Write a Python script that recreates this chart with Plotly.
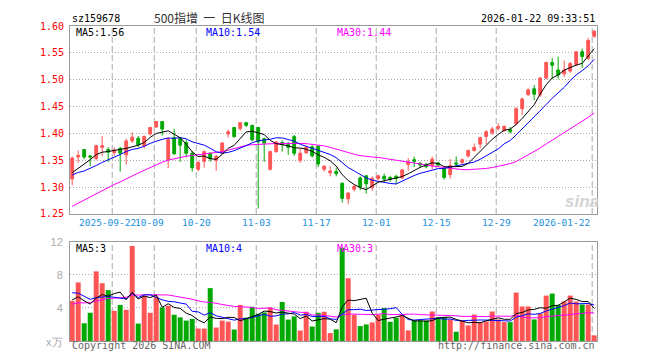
import plotly.graph_objects as go
import pandas as pd

# ---------------- data ----------------
dates = [
    "2025-09-11", "2025-09-12", "2025-09-15", "2025-09-16", "2025-09-17", "2025-09-18", "2025-09-19",
    "2025-09-22", "2025-09-23", "2025-09-24", "2025-09-25", "2025-09-26", "2025-09-29", "2025-09-30",
    "2025-10-09", "2025-10-10", "2025-10-13", "2025-10-14", "2025-10-15", "2025-10-16", "2025-10-17",
    "2025-10-20", "2025-10-21", "2025-10-22", "2025-10-23", "2025-10-24", "2025-10-27", "2025-10-28",
    "2025-10-29", "2025-10-30", "2025-10-31", "2025-11-03", "2025-11-04", "2025-11-05", "2025-11-06",
    "2025-11-07", "2025-11-10", "2025-11-11", "2025-11-12", "2025-11-13", "2025-11-14", "2025-11-17",
    "2025-11-18", "2025-11-19", "2025-11-20", "2025-11-21", "2025-11-24", "2025-11-25", "2025-11-26",
    "2025-11-27", "2025-11-28", "2025-12-01", "2025-12-02", "2025-12-03", "2025-12-04", "2025-12-05",
    "2025-12-08", "2025-12-09", "2025-12-10", "2025-12-11", "2025-12-12", "2025-12-15", "2025-12-16",
    "2025-12-17", "2025-12-18", "2025-12-19", "2025-12-22", "2025-12-23", "2025-12-24", "2025-12-25",
    "2025-12-26", "2025-12-29", "2025-12-30", "2025-12-31", "2026-01-05", "2026-01-06", "2026-01-07",
    "2026-01-08", "2026-01-09", "2026-01-12", "2026-01-13", "2026-01-14", "2026-01-15", "2026-01-16",
    "2026-01-19", "2026-01-20", "2026-01-21", "2026-01-22",
]
open_p = [
    1.315, 1.356, 1.370, 1.358, 1.353, 1.374, 1.370, 1.364, 1.372, 1.360, 1.386, 1.391, 1.377, 1.399,
    1.412, 1.422, 1.351, 1.392, 1.391, 1.383, 1.363, 1.333, 1.348, 1.363, 1.350, 1.363, 1.399, 1.411,
    1.409, 1.420, 1.415, 1.411, 1.390, 1.333, 1.366, 1.383, 1.379, 1.394, 1.350, 1.364, 1.375, 1.376,
    1.333, 1.3265, 1.329, 1.307, 1.278, 1.296, 1.317, 1.321, 1.299, 1.316, 1.320, 1.318, 1.320, 1.317,
    1.342, 1.351, 1.344, 1.342, 1.340, 1.345, 1.334, 1.323, 1.345, 1.346, 1.358, 1.368, 1.380, 1.394,
    1.401, 1.409, 1.405, 1.407, 1.418, 1.446, 1.472, 1.483, 1.472, 1.503, 1.532, 1.518, 1.511, 1.516,
    1.528, 1.552, 1.540, 1.581,
]
high_p = [
    1.357, 1.368, 1.371, 1.360, 1.379, 1.395, 1.374, 1.374, 1.375, 1.390, 1.402, 1.395, 1.396, 1.412,
    1.423, 1.422, 1.393, 1.408, 1.393, 1.388, 1.367, 1.349, 1.368, 1.364, 1.360, 1.384, 1.407, 1.412,
    1.421, 1.421, 1.416, 1.412, 1.392, 1.368, 1.386, 1.387, 1.384, 1.397, 1.372, 1.377, 1.378, 1.378,
    1.340, 1.339, 1.336, 1.309, 1.290, 1.305, 1.320, 1.322, 1.320, 1.323, 1.325, 1.321, 1.323, 1.334,
    1.354, 1.357, 1.347, 1.345, 1.357, 1.347, 1.336, 1.352, 1.357, 1.353, 1.370, 1.381, 1.394, 1.406,
    1.412, 1.419, 1.415, 1.412, 1.449, 1.467, 1.484, 1.490, 1.505, 1.534, 1.540, 1.543, 1.536, 1.533,
    1.553, 1.558, 1.578, 1.593,
]
low_p = [
    1.303, 1.345, 1.352, 1.339, 1.350, 1.357, 1.347, 1.358, 1.329, 1.342, 1.382, 1.374, 1.372, 1.396,
    1.410, 1.396, 1.335, 1.360, 1.347, 1.355, 1.329, 1.329, 1.336, 1.347, 1.330, 1.361, 1.392, 1.392,
    1.405, 1.412, 1.385, 1.260, 1.347, 1.331, 1.364, 1.366, 1.360, 1.358, 1.345, 1.362, 1.355, 1.337,
    1.329, 1.320, 1.320, 1.271, 1.268, 1.292, 1.294, 1.288, 1.293, 1.313, 1.309, 1.310, 1.305, 1.316,
    1.330, 1.337, 1.336, 1.335, 1.333, 1.338, 1.314, 1.316, 1.339, 1.343, 1.355, 1.366, 1.372, 1.380,
    1.397, 1.405, 1.403, 1.400, 1.415, 1.434, 1.470, 1.462, 1.468, 1.501, 1.501, 1.501, 1.505, 1.513,
    1.525, 1.522, 1.537, 1.578,
]
close_p = [
    1.354, 1.359, 1.356, 1.356, 1.377, 1.377, 1.365, 1.369, 1.363, 1.386, 1.393, 1.379, 1.394, 1.411,
    1.422, 1.408, 1.389, 1.362, 1.378, 1.363, 1.336, 1.346, 1.366, 1.353, 1.357, 1.382, 1.403, 1.394,
    1.420, 1.415, 1.388, 1.384, 1.382, 1.366, 1.384, 1.379, 1.374, 1.363, 1.363, 1.374, 1.358, 1.343,
    1.339, 1.330, 1.325, 1.279, 1.289, 1.301, 1.301, 1.306, 1.316, 1.321, 1.315, 1.314, 1.316, 1.332,
    1.347, 1.348, 1.341, 1.338, 1.352, 1.341, 1.318, 1.340, 1.343, 1.351, 1.368, 1.374, 1.392, 1.403,
    1.408, 1.413, 1.413, 1.403, 1.446, 1.464, 1.481, 1.473, 1.503, 1.532, 1.527, 1.509, 1.518, 1.530,
    1.552, 1.543, 1.573, 1.590,
]
volume = [  # 万
    4.85, 7.10, 2.15, 3.42, 8.43, 7.00, 6.16, 3.66, 4.37, 3.78, 11.50, 2.11, 5.45, 3.42,
    5.37, 4.06, 4.26, 3.18, 2.86, 2.47, 2.67, 1.51, 1.51, 6.40, 1.63, 2.47, 2.35, 1.39,
    4.37, 2.83, 4.14, 3.30, 3.46, 4.06, 1.99, 4.73, 2.59, 2.98, 1.27, 3.54, 1.75, 3.42,
    3.54, 0.96, 1.41, 11.30, 7.60, 3.17, 1.81, 2.00, 2.25, 3.17, 3.98, 2.33, 2.81, 3.17,
    1.29, 2.49, 2.49, 2.49, 3.57, 2.89, 2.89, 2.61, 1.12, 2.49, 1.89, 3.21, 2.29, 2.37,
    3.57, 2.61, 2.29, 2.29, 5.86, 4.18, 4.18, 2.61, 3.33, 5.50, 5.74, 4.38, 4.78, 5.50,
    4.78, 4.42, 4.42, 0.68,
]
# sessions before the visible window (estimated, used only for the moving averages)
prior_close = [
    1.18, 1.19, 1.17, 1.20, 1.19, 1.21, 1.20, 1.22, 1.21, 1.23, 1.22, 1.24, 1.25, 1.27, 1.27,
    1.27, 1.29, 1.29, 1.31, 1.29, 1.31, 1.33, 1.31, 1.32, 1.32, 1.32, 1.31, 1.32, 1.33,
]
prior_volume = [
    2.2, 2.5, 2.0, 2.6, 2.3, 2.1, 2.6, 2.4, 2.3, 2.4,
    3.5, 4.0, 3.8, 4.2, 4.0, 6.0, 7.0, 6.5, 7.0, 6.0,
    7.5, 6.0, 7.2, 6.3, 6.55, 5.2, 4.6, 5.4, 4.8,
]
price_ticks = [1.25, 1.30, 1.35, 1.40, 1.45, 1.50, 1.55, 1.60]
price_tick_labels = ["1.25", "1.30", "1.35", "1.40", "1.45", "1.50", "1.55", "1.60"]
vol_ticks = [4, 8, 12]
vol_tick_labels = ["4", "8", "12"]
tick_dates = ["2025-09-22", "2025-10-09", "2025-10-20", "2025-11-03", "2025-11-17",
              "2025-12-01", "2025-12-15", "2025-12-29", "2026-01-22"]
tick_labels = ["2025-09-22", "10-09", "10-20", "11-03", "11-17", "12-01", "12-15", "12-29", "2026-01-22"]

# ---------------- styling ----------------
RED = "#ff5555"
GREEN = "#00a800"
BORDER = "#999999"
GRID = "#aaaaaa"
MONO = "DejaVu Sans Mono"
OFF = 8                      # the page body adds an 8px margin; compensate for it
W, H = 660, 360              # target picture size
L, R, T, B = 70, 597, 20, 341  # plot area in picture pixels


def px(x):
    return (x - L) / (R - L)


def py(y):
    return (B - y) / (B - T)


def ma(prior, vals, k):
    s = pd.Series(list(prior) + list(vals)).rolling(k).mean()
    return s.iloc[len(prior):].tolist()


n = len(dates)
xs = list(range(n))
ma5 = ma(prior_close, close_p, 5)
ma10 = ma(prior_close, close_p, 10)
ma30 = ma(prior_close, close_p, 30)
vma5 = ma(prior_volume, volume, 5)
vma10 = ma(prior_volume, volume, 10)
vma30 = ma(prior_volume, volume, 30)
vol_colors = [RED if c > o else GREEN for o, c in zip(open_p, close_p)]

fig = go.Figure()
fig.add_trace(go.Candlestick(
    x=xs, open=open_p, high=high_p, low=low_p, close=close_p,
    increasing=dict(line=dict(color=RED, width=1), fillcolor=RED),
    decreasing=dict(line=dict(color=GREEN, width=1), fillcolor=GREEN),
    whiskerwidth=0, xaxis="x", yaxis="y", text=dates, hoverinfo="text+y",
))
for vals, col in ((ma30, "#ff00ff"), (ma10, "#0000ff"), (ma5, "#000000")):
    fig.add_trace(go.Scatter(x=xs, y=vals, mode="lines", line=dict(color=col, width=1),
                             xaxis="x", yaxis="y", hoverinfo="skip"))

fig.add_trace(go.Bar(x=xs, y=volume, marker=dict(color=vol_colors, line=dict(width=0)),
                     width=0.83, xaxis="x2", yaxis="y2", hoverinfo="y"))
for vals, col in ((vma30, "#ff00ff"), (vma10, "#0000ff"), (vma5, "#000000")):
    fig.add_trace(go.Scatter(x=xs, y=vals, mode="lines", line=dict(color=col, width=1),
                             xaxis="x2", yaxis="y2", hoverinfo="skip"))

# vertical dashed grid lines (slightly left of the candle centre, as in the source)
shapes = []
tick_idx = [dates.index(d) for d in tick_dates]
for i in tick_idx:
    for xr, yr in (("x", "y domain"), ("x2", "y2 domain")):
        shapes.append(dict(type="line", xref=xr, yref=yr, x0=i - 0.33, x1=i - 0.33, y0=0, y1=1,
                           line=dict(color=GRID, width=1, dash="6px,3px"), layer="below"))

ann = []


def text(x, y, s, color="#000000", size=10, anchor="left", family=MONO):
    ann.append(dict(x=px(x), y=py(y), xref="paper", yref="paper", text=s, showarrow=False,
                    xanchor=anchor, yanchor="middle", font=dict(family=family, size=size, color=color)))


text(70, 12, "sz159678", "#000000")
text(209, 11.5, "500指增\u00a0\u00a0一\u00a0\u00a0日K线图", "#333333", 12, "center", "Noto Sans CJK SC")
text(597, 12, "2026-01-22 09:33:51", "#000000", anchor="right")
text(74, 26.5, f"MA5:{ma5[-1]:.2f}", "#000000")
text(204, 26.5, f"MA10:{ma10[-1]:.2f}", "#0000ff")
text(335, 26.5, f"MA30:{ma30[-1]:.2f}", "#ff00ff")
text(74, 247, f"MA5:{int(vma5[-1])}", "#000000")
text(204, 247, f"MA10:{int(vma10[-1])}", "#0000ff")
text(335, 247, f"MA30:{int(vma30[-1])}", "#ff00ff")
# date labels: positions as they sit in the source
date_label_x = [107, 149.5, 196, 256, 316, 376, 436, 496, 592]
date_label_anchor = ["center"] * 8 + ["right"]
for lab, xl, an in zip(tick_labels, date_label_x, date_label_anchor):
    text(xl, 220, lab, "#2090e0", 9.5, an)
text(65, 342, "x万", "#aaaaaa", 11, "right", "Liberation Sans")
text(70, 346, "Copyright 2026 SINA.COM", "#666666")
text(597, 346, "http://finance.sina.com.cn", "#666666", anchor="right")
text(582, 199, "<b><i>sina</i></b>", "#d4d4d4", 17, "center", "Liberation Sans")

axis_common = dict(showline=True, mirror=True, linecolor=BORDER, linewidth=1, zeroline=False,
                   fixedrange=True)
fig.update_layout(
    width=W - OFF, height=H - OFF, margin=dict(l=L - OFF, r=W - R, t=T - OFF, b=H - B, pad=0),
    paper_bgcolor="white", plot_bgcolor="white", showlegend=False, boxgap=0.33,
    xaxis=dict(domain=[0, 1], anchor="y", range=[-0.367, 87.47], showticklabels=False,
               showgrid=False, rangeslider=dict(visible=False), **axis_common),
    yaxis=dict(domain=[py(211.5), 1], range=[1.25, 1.60], tickvals=price_ticks, ticktext=price_tick_labels,
               tickfont=dict(family=MONO, size=10, color="#ff0000"), ticks="", ticklabelstandoff=3,
               showgrid=True, gridcolor=GRID, gridwidth=1, griddash="1px,2px", **axis_common),
    xaxis2=dict(domain=[0, 1], anchor="y2", matches="x", range=[-0.367, 87.47], showticklabels=False,
                showgrid=False, **axis_common),
    yaxis2=dict(domain=[0, py(240)], range=[0, 12], tickvals=vol_ticks, ticktext=vol_tick_labels,
                tickfont=dict(family="Liberation Sans", size=11, color="#aaaaaa"), ticks="",
                ticklabelstandoff=4, showgrid=True, gridcolor=GRID, gridwidth=1, griddash="1px,2px",
                **axis_common),
    shapes=shapes, annotations=ann,
)

fig.write_html("out.html")
